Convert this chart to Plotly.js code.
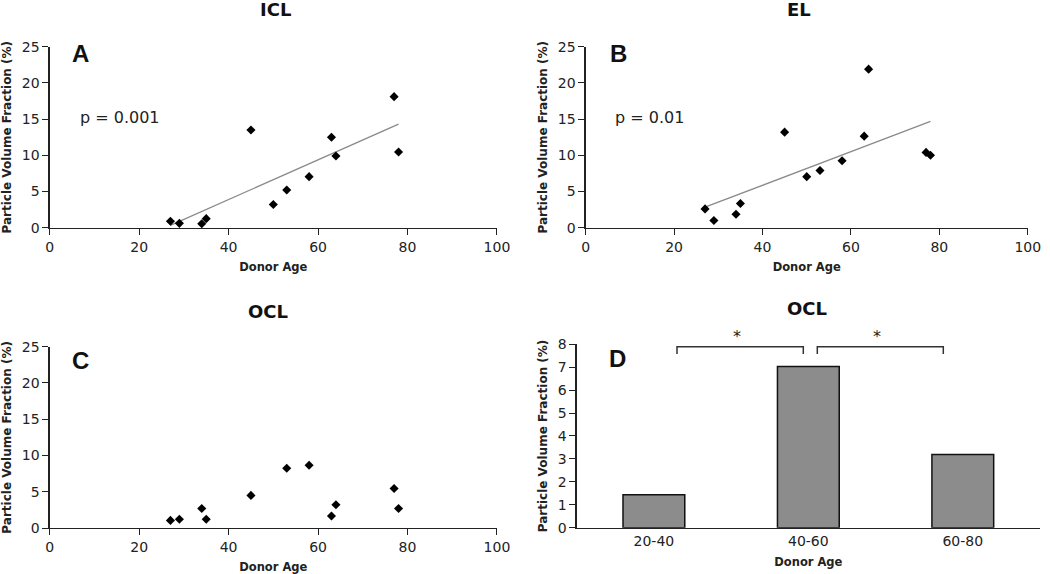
<!DOCTYPE html>
<html>
<head>
<meta charset="utf-8">
<script src="https://cdn.plot.ly/plotly-3.0.1.min.js"></script>
<style>html,body{margin:0;padding:0;background:#fff}#chart{width:1050px;height:574px}</style>
</head>
<body>
<div id="chart"></div>
<script>
// ---- Data ----
const iclAge = [27, 29, 34, 35, 45, 50, 53, 58, 63, 64, 77, 78];
const iclPVF = [0.9, 0.6, 0.55, 1.25, 13.5, 3.2, 5.2, 7.05, 12.5, 9.9, 18.1, 10.45];

const elAge = [27, 29, 34, 35, 45, 50, 53, 58, 63, 64, 77, 78];
const elPVF = [2.6, 1.0, 1.85, 3.35, 13.2, 7.05, 7.9, 9.25, 12.65, 21.9, 10.4, 10.0];

const oclAge = [27, 29, 34, 35, 45, 53, 58, 63, 64, 77, 78];
const oclPVF = [1.05, 1.2, 2.7, 1.2, 4.5, 8.25, 8.65, 1.65, 3.2, 5.45, 2.7];

const oclGroups = ["20-40", "40-60", "60-80"];
const oclGroupMean = [1.44, 7.03, 3.19];

const scatterTicks = [0, 20, 40, 60, 80, 100];
const pvfTicks = [0, 5, 10, 15, 20, 25];
const barTicks = [0, 1, 2, 3, 4, 5, 6, 7, 8];

// least-squares trend line computed from the data
function trend(xs, ys) {
  const n = xs.length;
  const mx = xs.reduce((a, b) => a + b, 0) / n;
  const my = ys.reduce((a, b) => a + b, 0) / n;
  let sxy = 0, sxx = 0;
  for (let i = 0; i < n; i++) { sxy += (xs[i] - mx) * (ys[i] - my); sxx += (xs[i] - mx) ** 2; }
  const b = sxy / sxx, a = my - b * mx;
  const x0 = Math.min(...xs), x1 = Math.max(...xs);
  return { x: [x0, x1], y: [a + b * x0, a + b * x1] };
}

const FONT = "DejaVu Sans, Verdana, sans-serif";
const marker = { symbol: "diamond", size: 7, color: "#000" };
const lineStyle = { color: "#8a8a8a", width: 1.3 };

const tA = trend(iclAge, iclPVF);
const tB = trend(elAge, elPVF);

const traces = [
  { type: "scatter", mode: "lines", x: tA.x, y: tA.y, line: lineStyle, xaxis: "x", yaxis: "y", hoverinfo: "skip" },
  { type: "scatter", mode: "markers", x: iclAge, y: iclPVF, marker: marker, xaxis: "x", yaxis: "y", cliponaxis: false },
  { type: "scatter", mode: "lines", x: tB.x, y: tB.y, line: lineStyle, xaxis: "x2", yaxis: "y2", hoverinfo: "skip" },
  { type: "scatter", mode: "markers", x: elAge, y: elPVF, marker: marker, xaxis: "x2", yaxis: "y2", cliponaxis: false },
  { type: "scatter", mode: "markers", x: oclAge, y: oclPVF, marker: marker, xaxis: "x3", yaxis: "y3", cliponaxis: false },
  { type: "bar", x: oclGroups, y: oclGroupMean, width: 0.4, xaxis: "x4", yaxis: "y4",
    marker: { color: "#8c8c8c", line: { color: "#111", width: 1.5 } } }
];

function xAx(domain, anchor, extra) {
  return Object.assign({
    domain: domain, anchor: anchor, range: [0, 100], tickvals: scatterTicks,
    showline: true, linecolor: "#222", linewidth: 1.3, ticks: "outside", ticklen: 6, tickcolor: "#222",
    showgrid: false, zeroline: false, tickfont: { family: FONT, size: 14, color: "#222" },
    title: { text: "Donor Age", font: { family: FONT, size: 11.5, color: "#222", weight: "bold" }, standoff: 9 }
  }, extra || {});
}
function yAx(domain, anchor, range, tv, extra) {
  return Object.assign({
    domain: domain, anchor: anchor, range: range, tickvals: tv,
    showline: true, linecolor: "#222", linewidth: 1.3, ticks: "outside", ticklen: 6, tickcolor: "#222",
    showgrid: false, zeroline: false, tickfont: { family: FONT, size: 14, color: "#222" },
    title: { text: "Particle Volume Fraction (%)", font: { family: FONT, size: 12, color: "#222", weight: "bold" }, standoff: 7 }
  }, extra || {});
}

const topY = [0.6033, 0.9186];
const botY = [0.0801, 0.3960];

const layout = {
  width: 1050, height: 574, showlegend: false,
  paper_bgcolor: "#fff", plot_bgcolor: "#fff",
  margin: { l: 0, r: 0, t: 0, b: 0 },
  xaxis: xAx([0.0473, 0.4733], "y"),
  yaxis: yAx(topY, "x", [0, 25], pvfTicks),
  xaxis2: xAx([0.5578, 0.9788], "y2"),
  yaxis2: yAx(topY, "x2", [0, 25], pvfTicks),
  xaxis3: xAx([0.0473, 0.4733], "y3"),
  yaxis3: yAx(botY, "x3", [0, 25], pvfTicks),
  xaxis4: { domain: [0.5492, 0.9905], anchor: "y4", type: "category", range: [-0.5, 2.5],
    showline: true, linecolor: "#222", linewidth: 1.3, ticks: "", showgrid: false, zeroline: false,
    tickfont: { family: FONT, size: 14, color: "#222" },
    title: { text: "Donor Age", font: { family: FONT, size: 11.5, color: "#222", weight: "bold" }, standoff: 10 } },
  yaxis4: yAx([0.0807, 0.4003], "x4", [0, 8], barTicks),
  annotations: [
    // subplot titles
    { text: "<b>ICL</b>", x: 275 / 1050, y: 1 - 10 / 574, xref: "paper", yref: "paper", showarrow: false, xanchor: "center", yanchor: "middle", font: { family: FONT, size: 18, color: "#111" } },
    { text: "<b>EL</b>", x: 799 / 1050, y: 1 - 10 / 574, xref: "paper", yref: "paper", showarrow: false, xanchor: "center", yanchor: "middle", font: { family: FONT, size: 18, color: "#111" } },
    { text: "<b>OCL</b>", x: 268 / 1050, y: 1 - 311 / 574, xref: "paper", yref: "paper", showarrow: false, xanchor: "center", yanchor: "middle", font: { family: FONT, size: 18, color: "#111" } },
    { text: "<b>OCL</b>", x: 807 / 1050, y: 1 - 308 / 574, xref: "paper", yref: "paper", showarrow: false, xanchor: "center", yanchor: "middle", font: { family: FONT, size: 18, color: "#111" } },
    // panel letters
    { text: "<b>A</b>", x: 80 / 1050, y: 1 - 53 / 574, xref: "paper", yref: "paper", showarrow: false, xanchor: "center", yanchor: "middle", font: { family: "Liberation Sans, Arial, sans-serif", size: 24, color: "#111" } },
    { text: "<b>B</b>", x: 618 / 1050, y: 1 - 53 / 574, xref: "paper", yref: "paper", showarrow: false, xanchor: "center", yanchor: "middle", font: { family: "Liberation Sans, Arial, sans-serif", size: 24, color: "#111" } },
    { text: "<b>C</b>", x: 80 / 1050, y: 1 - 360 / 574, xref: "paper", yref: "paper", showarrow: false, xanchor: "center", yanchor: "middle", font: { family: "Liberation Sans, Arial, sans-serif", size: 24, color: "#111" } },
    { text: "<b>D</b>", x: 617 / 1050, y: 1 - 358 / 574, xref: "paper", yref: "paper", showarrow: false, xanchor: "center", yanchor: "middle", font: { family: "Liberation Sans, Arial, sans-serif", size: 24, color: "#111" } },
    // p-values
    { text: "p = 0.001", x: 78 / 1050, y: 1 - 118 / 574, xref: "paper", yref: "paper", showarrow: false, xanchor: "left", yanchor: "middle", font: { family: FONT, size: 16, color: "#222" } },
    { text: "p = 0.01", x: 613 / 1050, y: 1 - 118 / 574, xref: "paper", yref: "paper", showarrow: false, xanchor: "left", yanchor: "middle", font: { family: FONT, size: 16, color: "#222" } },
    // significance stars
    { text: "*", x: 737 / 1050, y: 1 - 336 / 574, xref: "paper", yref: "paper", showarrow: false, xanchor: "center", yanchor: "middle", font: { family: FONT, size: 16, color: "#222" } },
    { text: "*", x: 877 / 1050, y: 1 - 336 / 574, xref: "paper", yref: "paper", showarrow: false, xanchor: "center", yanchor: "middle", font: { family: FONT, size: 16, color: "#222" } }
  ],
  shapes: [
    { type: "path", xref: "paper", yref: "paper",
      path: "M " + (677 / 1050) + " " + (1 - 354 / 574) + " L " + (677 / 1050) + " " + (1 - 346.7 / 574) + " L " + (803.3 / 1050) + " " + (1 - 346.7 / 574) + " L " + (803.3 / 1050) + " " + (1 - 354 / 574),
      line: { color: "#333", width: 1.5 } },
    { type: "path", xref: "paper", yref: "paper",
      path: "M " + (817.3 / 1050) + " " + (1 - 354 / 574) + " L " + (817.3 / 1050) + " " + (1 - 346.7 / 574) + " L " + (943.3 / 1050) + " " + (1 - 346.7 / 574) + " L " + (943.3 / 1050) + " " + (1 - 354 / 574),
      line: { color: "#333", width: 1.5 } }
  ]
};

Plotly.newPlot("chart", traces, layout, { displayModeBar: false, staticPlot: true });
</script>
</body>
</html>
